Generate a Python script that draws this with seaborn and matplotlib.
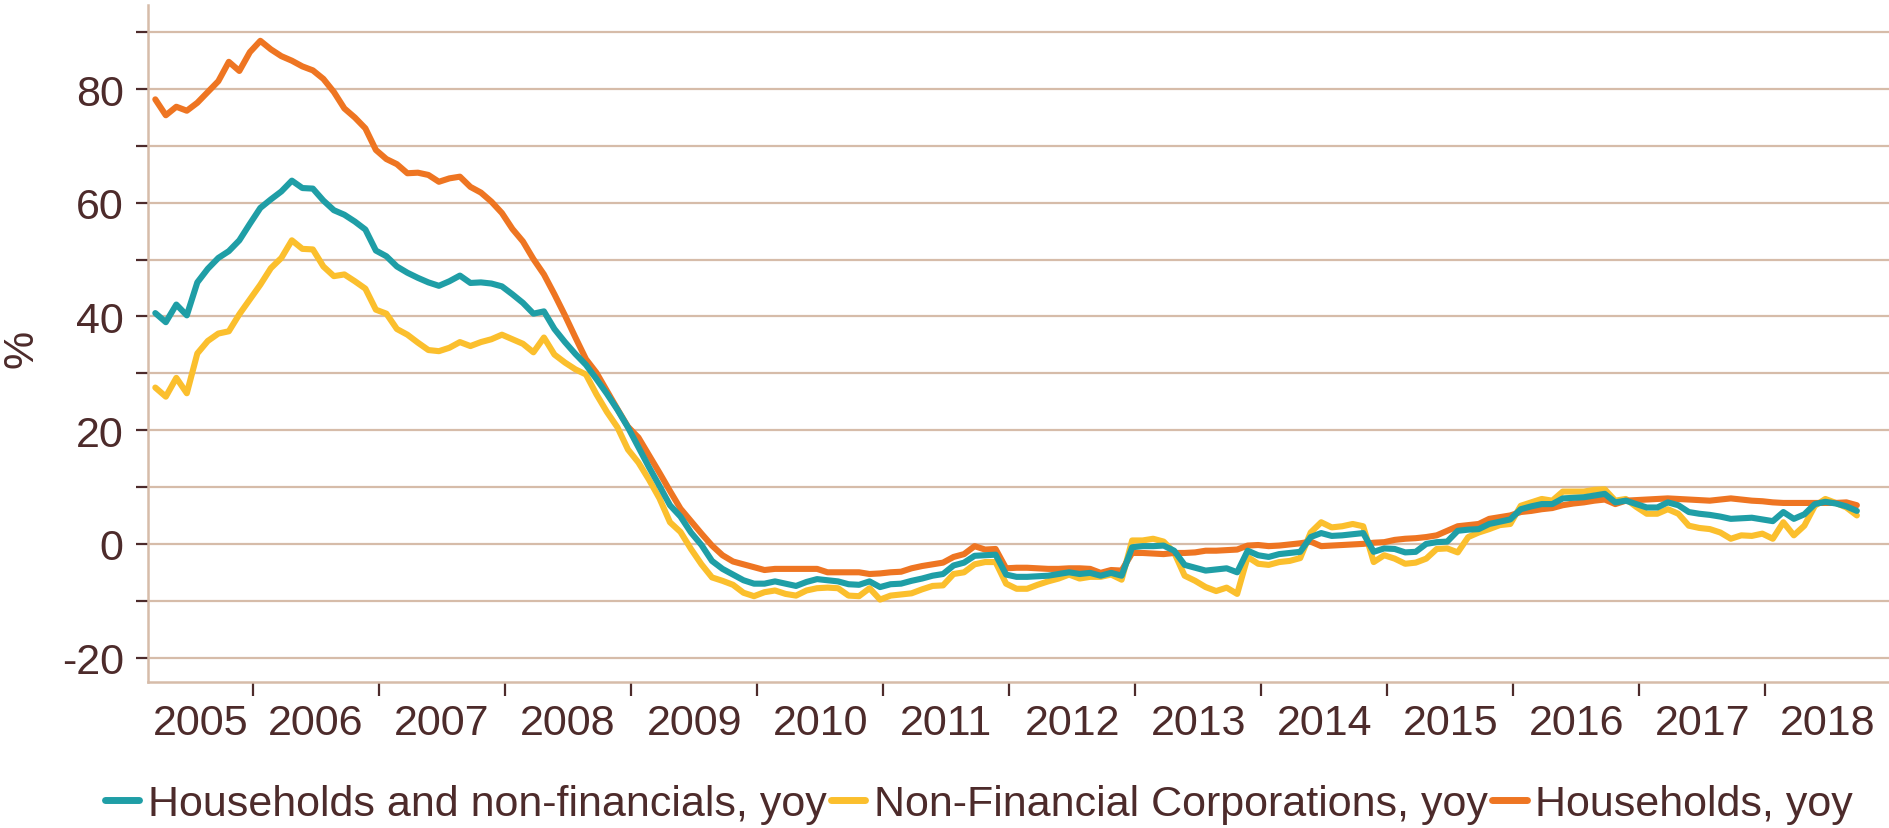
import pandas as pd
import seaborn as sns
from matplotlib import pyplot as plt
from matplotlib.ticker import FixedLocator, FuncFormatter

# Monthly year-on-year credit growth (%), March 2005 .. September 2018
FIRST_MONTH = "2005-03"
LAST_MONTH = "2018-09"

households_nonfin = [
    40.6, 39.0, 42.1, 40.2, 46.0, 48.4, 50.3, 51.5, 53.4, 56.3,
    59.1, 60.6, 62.0, 63.9, 62.6, 62.5, 60.4, 58.7, 57.9, 56.7,
    55.3, 51.6, 50.6, 48.8, 47.7, 46.8, 46.0, 45.4, 46.2, 47.2,
    45.9, 46.0, 45.8, 45.3, 43.9, 42.4, 40.5, 40.9, 37.8, 35.5,
    33.4, 31.5, 29.0, 26.4, 23.6, 20.5, 17.0, 13.5, 10.2, 6.8,
    4.8, 2.0, -0.2, -3.0, -4.4, -5.4, -6.4, -7.0, -7.0, -6.6,
    -7.0, -7.4, -6.7, -6.2, -6.4, -6.6, -7.1, -7.2, -6.6, -7.6,
    -7.1, -7.0, -6.5, -6.1, -5.6, -5.3, -3.8, -3.3, -2.1, -2.0,
    -1.9, -5.4, -5.8, -5.8, -5.7, -5.6, -5.3, -5.0, -5.3, -5.1,
    -5.6, -5.1, -5.6, -0.6, -0.4, -0.4, -0.3, -1.2, -3.7, -4.2,
    -4.7, -4.5, -4.3, -5.0, -1.2, -2.0, -2.3, -1.8, -1.6, -1.4,
    1.2, 1.9, 1.4, 1.5, 1.7, 1.9, -1.4, -0.8, -0.9, -1.5,
    -1.4, 0.0, 0.3, 0.4, 2.3, 2.5, 2.6, 3.5, 3.9, 4.3,
    6.1, 6.6, 7.0, 7.0, 8.0, 8.1, 8.2, 8.5, 8.8, 7.3,
    7.6, 7.0, 6.4, 6.4, 7.3, 6.8, 5.6, 5.3, 5.1, 4.8,
    4.4, 4.5, 4.6, 4.3, 4.0, 5.6, 4.4, 5.2, 7.0, 7.4,
    7.1, 6.6, 5.8,
]

non_fin_corps = [
    27.5, 25.9, 29.2, 26.5, 33.5, 35.7, 37.0, 37.4, 40.4, 43.0,
    45.6, 48.5, 50.3, 53.4, 51.9, 51.8, 48.8, 47.1, 47.4, 46.2,
    44.9, 41.2, 40.5, 37.8, 36.8, 35.4, 34.1, 33.9, 34.5, 35.5,
    34.8, 35.5, 36.0, 36.8, 36.0, 35.2, 33.7, 36.3, 33.3, 31.9,
    30.7, 29.8, 26.3, 23.2, 20.5, 16.6, 14.3, 11.3, 8.0, 3.8,
    2.1, -0.9, -3.6, -5.9, -6.5, -7.2, -8.6, -9.2, -8.5, -8.2,
    -8.8, -9.1, -8.2, -7.8, -7.7, -7.8, -9.1, -9.2, -7.8, -9.8,
    -9.1, -8.9, -8.7, -8.0, -7.4, -7.3, -5.3, -5.0, -3.6, -3.2,
    -3.2, -7.0, -7.9, -7.9, -7.2, -6.6, -6.1, -5.4, -6.1, -5.8,
    -5.8, -5.4, -6.3, 0.6, 0.6, 0.9, 0.4, -1.5, -5.6, -6.5,
    -7.6, -8.3, -7.7, -8.8, -2.3, -3.5, -3.7, -3.2, -3.0, -2.5,
    2.0, 3.8, 2.9, 3.1, 3.5, 3.1, -3.2, -2.0, -2.6, -3.5,
    -3.3, -2.6, -0.9, -0.8, -1.5, 1.2, 2.0, 2.6, 3.3, 3.5,
    6.7, 7.3, 7.9, 7.6, 9.2, 9.2, 9.2, 9.5, 9.6, 7.6,
    7.9, 6.5, 5.3, 5.3, 6.1, 5.3, 3.2, 2.8, 2.6, 2.0,
    0.9, 1.5, 1.4, 1.8, 0.9, 3.8, 1.5, 3.2, 6.7, 7.9,
    7.2, 6.4, 5.0,
]

households = [
    78.2, 75.4, 76.9, 76.2, 77.6, 79.5, 81.4, 84.8, 83.2, 86.5,
    88.5, 87.0, 85.8, 85.0, 84.0, 83.3, 81.8, 79.5, 76.6, 75.0,
    73.1, 69.3, 67.7, 66.8, 65.2, 65.3, 64.9, 63.7, 64.3, 64.6,
    62.8, 61.8, 60.2, 58.2, 55.4, 53.2, 50.1, 47.4, 43.9, 40.2,
    36.3, 32.5, 30.1, 26.9, 23.7, 20.6, 18.7, 15.6, 12.5, 9.3,
    6.2, 4.0, 1.8, -0.3, -2.0, -3.1, -3.6, -4.1, -4.6, -4.4,
    -4.4, -4.4, -4.4, -4.4, -5.0, -5.0, -5.0, -5.0, -5.3, -5.2,
    -5.0, -4.9, -4.3, -3.9, -3.6, -3.3, -2.3, -1.8, -0.4, -1.0,
    -0.9, -4.3, -4.2, -4.2, -4.3, -4.4, -4.4, -4.3, -4.3, -4.4,
    -5.1, -4.6, -4.7, -1.6, -1.6, -1.7, -1.8, -1.6, -1.6, -1.5,
    -1.2, -1.2, -1.1, -1.0, -0.3, -0.2, -0.4, -0.3, -0.1, 0.1,
    0.4, -0.4, -0.3, -0.2, -0.1, 0.0, 0.2, 0.3, 0.7, 0.9,
    1.0, 1.2, 1.5, 2.3, 3.1, 3.3, 3.5, 4.4, 4.7, 5.0,
    5.6, 5.8, 6.1, 6.3, 6.8, 7.1, 7.3, 7.6, 7.8, 7.0,
    7.6, 7.7, 7.8, 7.9, 8.0, 7.9, 7.8, 7.7, 7.6, 7.8,
    8.0, 7.8, 7.6, 7.5, 7.3, 7.2, 7.2, 7.2, 7.2, 7.2,
    7.2, 7.3, 6.8,
]

series_names = [
    "Households and non-financials, yoy",
    "Non-Financial Corporations, yoy",
    "Households, yoy",
]
series_values = [households_nonfin, non_fin_corps, households]
colours = ["#1f9ea6", "#fbbf2d", "#ee7522"]
year_labels = [str(y) for y in range(2005, 2019)]

TEXT = "#4d2b2b"
GRID = "#d6bca9"
FONT_SIZE = 31


def build_frame():
    months = pd.period_range(FIRST_MONTH, LAST_MONTH, freq="M")
    # place each month as a fractional year so year ticks fall on boundaries
    pos = months.year + (months.month - 1 + 0.7) / 12
    dfs = []
    for name, values in zip(series_names, series_values):
        dfs.append(pd.DataFrame({"t": pos, "value": values, "series": name}))
    return pd.concat(dfs, ignore_index=True)


def main():
    sns.set_style("white")
    plt.rcParams["font.family"] = ["Liberation Sans", "DejaVu Sans"]
    plt.rcParams["axes.unicode_minus"] = False

    fig = plt.figure(figsize=(18.89, 8.29), dpi=100)
    ax = fig.add_axes([148 / 1889, 1 - 683 / 829, 1741 / 1889, 677 / 829])

    df = build_frame()
    sns.lineplot(
        ax=ax,
        data=df,
        x="t",
        y="value",
        hue="series",
        hue_order=series_names,
        palette=colours,
        linewidth=4.4,
    )
    # teal series sits on top of the others
    ax.lines[0].set_zorder(4)

    handles, labels = ax.get_legend_handles_labels()
    ax.get_legend().remove()
    for h in handles:
        h.set_linewidth(5)

    x_left, x_right = 2005.167, 2018.98
    ax.set_xlim(x_left, x_right)
    ax.set_ylim(-24.3, 94.8)

    # y axis: tick every 10, label every 20
    ax.yaxis.set_major_locator(FixedLocator(range(-20, 100, 10)))
    ax.yaxis.set_major_formatter(
        FuncFormatter(lambda v, _: f"{v:.0f}" if round(v) % 20 == 0 and v < 90 else "")
    )

    # x axis: ticks on year boundaries, labels centred in each visible year
    bounds = [x_left] + list(range(2006, 2019)) + [x_right]
    centres = [(a + b) / 2 for a, b in zip(bounds[:-1], bounds[1:])]
    ax.xaxis.set_major_locator(FixedLocator(range(2006, 2019)))
    ax.set_xticks(centres, year_labels, minor=True)
    ax.tick_params(axis="x", which="major", labelbottom=False, length=10, width=1.6,
                   color=TEXT, direction="out", bottom=True)
    ax.tick_params(axis="x", which="minor", length=0, labelsize=FONT_SIZE,
                   labelcolor=TEXT, pad=15)
    ax.tick_params(axis="y", which="major", length=8.5, width=1.6, color=TEXT,
                   direction="out", left=True, labelsize=FONT_SIZE, labelcolor=TEXT, pad=9)

    ax.set(xlabel="", ylabel="")
    ax.yaxis.grid(True, color=GRID, linewidth=1.6)
    ax.xaxis.grid(False)
    ax.set_axisbelow(True)
    for side in ["top", "right"]:
        ax.spines[side].set_visible(False)
    for side in ["left", "bottom"]:
        ax.spines[side].set_color(GRID)
        ax.spines[side].set_linewidth(1.8)

    fig.text(22 / 1889, 1 - 349 / 829, "%", rotation=90, ha="center", va="center",
             fontsize=FONT_SIZE, color=TEXT)

    fig.legend(
        handles,
        labels,
        loc="center",
        bbox_to_anchor=(979 / 1889, 1 - 805 / 829),
        ncol=3,
        frameon=False,
        fontsize=FONT_SIZE,
        labelcolor=TEXT,
        handlelength=0.8,
        handletextpad=0.2,
        columnspacing=0.1,
        borderpad=0,
    )

    fig.savefig("out.png", dpi=100)


if __name__ == "__main__":
    main()
